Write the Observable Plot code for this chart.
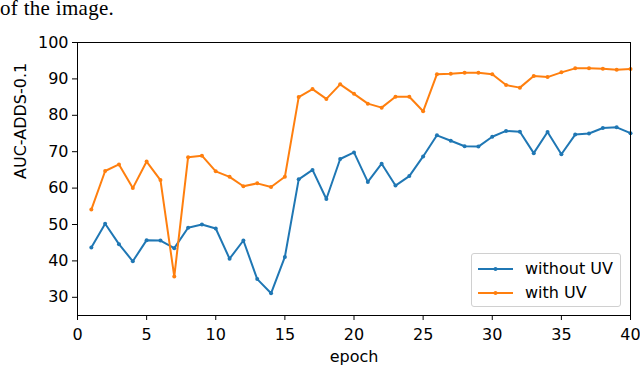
<!DOCTYPE html>
<html><head><meta charset="utf-8">
<script src="https://cdn.jsdelivr.net/npm/d3@7"></script>
<script src="https://cdn.jsdelivr.net/npm/@observablehq/plot@0.6"></script>
<style>
body{margin:0;background:#fff;}
#wrap{position:relative;width:640px;height:366px;overflow:hidden;font-family:"DejaVu Sans",sans-serif;background:#fff;}
#cap{position:absolute;left:0;top:-6px;font-family:"Liberation Serif","DejaVu Serif",serif;font-size:21px;line-height:28px;letter-spacing:0.3px;color:#000;white-space:nowrap;}
#legend{position:absolute;left:471px;top:253px;width:150px;height:54px;box-sizing:border-box;border:1px solid #d0d0d0;border-radius:3px;background:rgba(255,255,255,0.85);}
.row{position:absolute;left:0;height:20px;width:100%;}
.row svg{position:absolute;left:5px;top:0;}
.row span{position:absolute;left:53px;top:0;font-size:16px;line-height:20px;color:#000;white-space:nowrap;}
#chart svg{display:block;}
</style></head>
<body>
<div id="wrap">
<div id="chart"></div>
<div id="cap">of the image.</div>
<div id="legend"></div>
</div>
<script>
const epochs = [1,2,3,4,5,6,7,8,9,10,11,12,13,14,15,16,17,18,19,20,21,22,23,24,25,26,27,28,29,30,31,32,33,34,35,36,37,38,39,40];
const withoutUV = [43.7,50.2,44.6,39.9,45.7,45.6,43.5,49.1,50.0,48.9,40.6,45.6,35.0,31.1,41.1,62.4,65.0,57.0,68.0,69.8,61.7,66.7,60.7,63.3,68.7,74.5,73.0,71.5,71.4,74.1,75.7,75.5,69.6,75.4,69.3,74.7,75.0,76.5,76.7,75.1];
const withUV = [54.1,64.7,66.5,60.0,67.3,62.2,35.7,68.5,68.9,64.6,63.1,60.5,61.3,60.3,63.1,85.0,87.2,84.5,88.5,85.9,83.2,82.1,85.1,85.1,81.1,91.3,91.4,91.7,91.7,91.3,88.3,87.6,90.8,90.5,91.8,92.9,92.9,92.8,92.5,92.7];
const seriesNames = ["without UV","with UV"];
const colors = ["#1f77b4","#ff7f0e"];
const xTicks = [0,5,10,15,20,25,30,35,40];
const yTicks = [30,40,50,60,70,80,90,100];
const xLabel = "epoch";
const yLabel = "AUC-ADDS-0.1";

const seriesValues = [withoutUV, withUV];
const data = seriesNames.flatMap((s, k) => epochs.map((e, i) => ({epoch: e, value: seriesValues[k][i], series: s})));

const chart = Plot.plot({
  width: 640, height: 366,
  marginLeft: 77, marginRight: 10, marginTop: 42, marginBottom: 51,
  style: {fontFamily: "DejaVu Sans, sans-serif", fontSize: "16px", color: "black", background: "white"},
  x: {domain: [0, 40], label: null},
  y: {domain: [25, 100], label: null},
  color: {domain: seriesNames, range: colors},
  marks: [
    Plot.axisX({ticks: xTicks, tickSize: 5, tickPadding: 8, label: null, fontSize: 16, stroke: "black", fill: "black"}),
    Plot.axisY({ticks: yTicks, tickSize: 5, tickPadding: 4, label: null, fontSize: 16, stroke: "black", fill: "black"}),
    Plot.line(data, {x: "epoch", y: "value", stroke: "series", z: "series", strokeWidth: 2}),
    Plot.dot(data, {x: "epoch", y: "value", fill: "series", r: 2}),
    Plot.frame({stroke: "black", strokeWidth: 1}),
    Plot.text([xLabel], {text: d => d, frameAnchor: "bottom", dy: 41, lineAnchor: "middle", fontSize: 16, fill: "black"}),
    Plot.text([yLabel], {text: d => d, frameAnchor: "left", dx: -57, rotate: -90, fontSize: 16, fill: "black"})
  ]
});
document.getElementById("chart").appendChild(chart);

const legend = d3.select("#legend");
seriesNames.forEach((s, k) => {
  const row = legend.append("div").attr("class", "row").style("top", (5 + k * 24) + "px");
  const svg = row.append("svg").attr("width", 38).attr("height", 20);
  svg.append("line").attr("x1", 1).attr("x2", 36).attr("y1", 10).attr("y2", 10).attr("stroke", colors[k]).attr("stroke-width", 2);
  svg.append("circle").attr("cx", 18.5).attr("cy", 10).attr("r", 2).attr("fill", colors[k]);
  row.append("span").text(s);
});
</script>
</body></html>
